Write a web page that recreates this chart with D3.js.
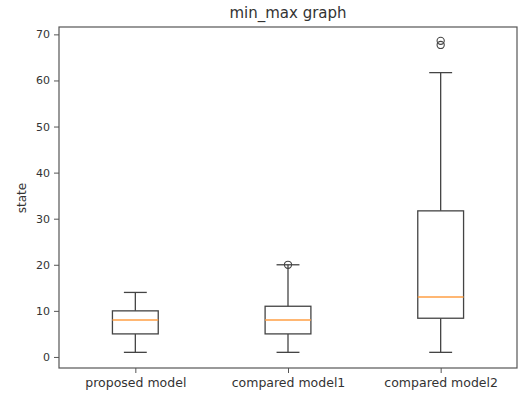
<!DOCTYPE html>
<html>
<head>
    <meta charset="utf-8">
    <title>min_max graph</title>
    <script src="https://d3js.org/d3.v7.min.js"></script>
    <style>
        body { margin: 0; background: #fff; }
        text { font-family: "DejaVu Sans", sans-serif; fill: #333; }
    </style>
</head>
<body>
    <script>
        // Box statistics
        const categories = ["proposed model", "compared model1", "compared model2"];
        const whiskerLow = [1, 1, 1];
        const q1 = [5, 5, 8.4];
        const median = [8, 8, 13];
        const q3 = [10, 11, 31.7];
        const whiskerHigh = [14, 20, 61.7];
        const outliers = [[], [20], [67.7, 68.6]];
        const yTicks = [0, 10, 20, 30, 40, 50, 60, 70];

        const W = 519, H = 393;
        const margin = { top: 27, right: 2, bottom: 25, left: 59 };

        const svg = d3.select("body").append("svg")
            .attr("width", W)
            .attr("height", H);

        const x = d3.scaleLinear()
            .domain([0.5, 3.5])
            .range([margin.left, W - margin.right]);

        const y = d3.scaleLinear()
            .domain([-2.4, 71.6])
            .range([H - margin.bottom, margin.top]);

        const boxW = 0.3, capW = 0.15;
        const stroke = "#444";

        // Boxes
        const g = svg.selectAll(".box")
            .data(categories.map((c, i) => ({ c, i, pos: i + 1 })))
            .enter().append("g")
            .attr("class", "box");

        // whiskers
        g.append("line")
            .attr("x1", d => x(d.pos)).attr("x2", d => x(d.pos))
            .attr("y1", d => y(whiskerLow[d.i])).attr("y2", d => y(q1[d.i]))
            .attr("stroke", stroke).attr("stroke-width", 1.3);
        g.append("line")
            .attr("x1", d => x(d.pos)).attr("x2", d => x(d.pos))
            .attr("y1", d => y(q3[d.i])).attr("y2", d => y(whiskerHigh[d.i]))
            .attr("stroke", stroke).attr("stroke-width", 1.3);

        // caps
        [whiskerLow, whiskerHigh].forEach(arr => {
            g.append("line")
                .attr("x1", d => x(d.pos - capW / 2)).attr("x2", d => x(d.pos + capW / 2))
                .attr("y1", d => y(arr[d.i])).attr("y2", d => y(arr[d.i]))
                .attr("stroke", stroke).attr("stroke-width", 1.3);
        });

        // box
        g.append("rect")
            .attr("x", d => x(d.pos - boxW / 2))
            .attr("width", d => x(d.pos + boxW / 2) - x(d.pos - boxW / 2))
            .attr("y", d => y(q3[d.i]))
            .attr("height", d => y(q1[d.i]) - y(q3[d.i]))
            .attr("fill", "none")
            .attr("stroke", stroke).attr("stroke-width", 1.3);

        // median
        g.append("line")
            .attr("x1", d => x(d.pos - boxW / 2)).attr("x2", d => x(d.pos + boxW / 2))
            .attr("y1", d => y(median[d.i])).attr("y2", d => y(median[d.i]))
            .attr("stroke", "#ff9f45").attr("stroke-width", 1.5);

        // outliers
        g.selectAll(".flier")
            .data(d => outliers[d.i].map(v => ({ v, pos: d.pos })))
            .enter().append("circle")
            .attr("cx", d => x(d.pos))
            .attr("cy", d => y(d.v))
            .attr("r", 3.6)
            .attr("fill", "none")
            .attr("stroke", stroke).attr("stroke-width", 1.1);

        // Frame
        svg.append("rect")
            .attr("x", margin.left).attr("y", margin.top)
            .attr("width", W - margin.right - margin.left)
            .attr("height", H - margin.bottom - margin.top)
            .attr("fill", "none")
            .attr("stroke", "#555").attr("stroke-width", 1.2);

        // Y axis
        const yAxis = svg.append("g")
            .attr("transform", `translate(${margin.left},0)`)
            .call(d3.axisLeft(y).tickValues(yTicks).tickSize(5).tickPadding(4));
        yAxis.select(".domain").remove();
        yAxis.selectAll("line").attr("stroke", "#555");
        yAxis.selectAll("text").style("font-size", "11px").attr("fill", "#333");

        // X axis
        const xAxis = svg.append("g")
            .attr("transform", `translate(0,${H - margin.bottom})`)
            .call(d3.axisBottom(x).tickValues([1, 2, 3])
                .tickFormat(d => categories[d - 1]).tickSize(5).tickPadding(5));
        xAxis.select(".domain").remove();
        xAxis.selectAll("line").attr("stroke", "#555");
        xAxis.selectAll("text").style("font-size", "12.5px").attr("fill", "#333");

        // Labels
        svg.append("text")
            .attr("transform", `translate(26,198) rotate(-90)`)
            .attr("text-anchor", "middle")
            .style("font-size", "12px")
            .text("state");

        svg.append("text")
            .attr("x", 288).attr("y", 18)
            .attr("text-anchor", "middle")
            .style("font-size", "15px")
            .text("min_max graph");
    </script>
</body>
</html>
